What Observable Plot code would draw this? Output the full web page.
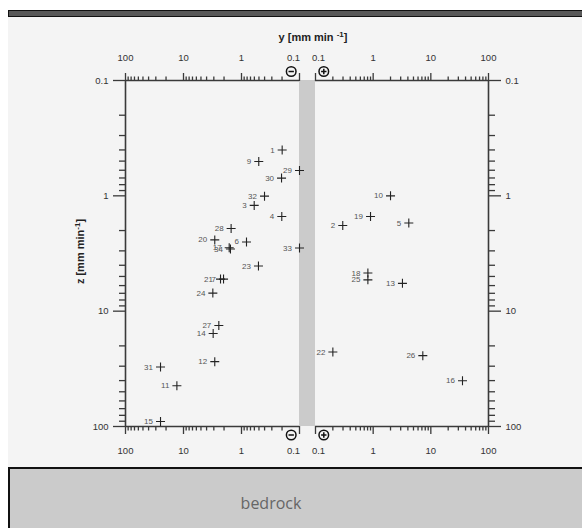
<!DOCTYPE html>
<html><head><meta charset="utf-8">
<script src="https://cdn.jsdelivr.net/npm/d3@7"></script>
<script src="https://cdn.jsdelivr.net/npm/@observablehq/plot@0.6"></script>
<style>
body{margin:0;background:#fff;}
#wrap{position:relative;width:582px;height:528px;overflow:hidden;font-family:"Liberation Sans",Arial,sans-serif;}
.abs{position:absolute;}
sup{font-size:8px;line-height:0;vertical-align:4px;}
</style></head><body>
<div id="wrap">
  <div class="abs" style="left:8px;top:10px;width:580px;height:5px;background:#585858;border:1px solid #111;"></div>
  <div class="abs" style="left:8px;top:17px;width:580px;height:450px;background:#f4f4f4;"></div>
  <div class="abs" style="left:299px;top:80px;width:16px;height:346px;background:#cbcbcb;"></div>
  <div class="abs" style="left:213px;top:31px;width:200px;text-align:center;font-weight:bold;font-size:11px;line-height:13px;color:#222;">y [mm min <sup>-1</sup>]</div>
  <div class="abs" style="left:20px;top:245px;width:120px;height:13px;text-align:center;font-weight:bold;font-size:11px;line-height:13px;color:#222;transform:rotate(-90deg);">z [mm min<sup>-1</sup>]</div>
  <div class="abs" style="left:8px;top:467px;width:580px;height:70px;background:#cbcbcb;border-top:2px solid #111;border-left:2px solid #111;"></div>
  <div class="abs" style="left:171px;top:492px;width:200px;text-align:center;font-family:'Open Sans';font-size:16px;line-height:22px;color:#666;">bedrock</div>
</div>
<script>
// point numbers, y rate (negative = left panel), z rate
const ids   = [1, 9, 29, 30, 32, 3, 4, 28, 20, 6, 17, 34, 33, 23, 21, 7, 24, 27, 14, 12, 31, 11, 15,
               10, 19, 2, 5, 18, 25, 13, 22, 26, 16];
const yRate = [-0.199, -0.504, -0.1, -0.204, -0.401, -0.604, -0.202, -1.51, -2.89, -0.82, -1.63, -1.55, -0.1, -0.51, -2.30, -2.04, -3.12, -2.46, -3.08, -2.89, -24.9, -13.0, -24.9,
               2.0, 0.90, 0.297, 4.15, 0.81, 0.81, 3.22, 0.2, 7.26, 35.4];
const zRate = [0.401, 0.504, 0.603, 0.702, 1.006, 1.21, 1.51, 1.92, 2.41, 2.51, 2.82, 2.89, 2.83, 4.06, 5.27, 5.27, 6.97, 13.3, 15.6, 27.4, 30.5, 44.3, 90.5,
               1.0, 1.51, 1.81, 1.72, 4.67, 5.35, 5.74, 22.6, 24.3, 40.1];

const majorTicks = [0.1, 1, 10, 100];
const tickLabels = ["0.1", "1", "10", "100"];
const minorTicks = [0.2, 0.3, 0.4, 0.5, 0.6, 0.7, 0.8, 0.9, 2, 3, 4, 5, 6, 7, 8, 9, 20, 30, 40, 50, 60, 70, 80, 90];

const rows = ids.map((id, i) => ({id: String(id), y: yRate[i], z: zRate[i]}));
const fmt = d => tickLabels[majorTicks.indexOf(d)];
const AX = "#3a3a3a";
const cross = {draw(c) { const r = 4.5; c.moveTo(-r, 0); c.lineTo(r, 0); c.moveTo(0, -r); c.lineTo(0, r); }};
const signSym = plus => ({draw(c) {
  const r = 4.8, s = 2.7;
  c.moveTo(r, 0); c.arc(0, 0, r, 0, 2 * Math.PI);
  c.moveTo(-s, 0); c.lineTo(s, 0);
  if (plus) { c.moveTo(0, -s); c.lineTo(0, s); }
}});

function panel(left) {
  const data = rows.filter(d => left ? d.y < 0 : d.y > 0).map(d => ({...d, m: Math.abs(d.y)}));
  const tk = {stroke: AX, strokeWidth: 1.3, fontSize: 9.5, fill: "#333", label: null};
  const lab = {fontSize: 9.5, fill: "#333", lineAnchor: "middle"};
  const others = majorTicks.filter(t => t !== 0.1);
  const svg = Plot.plot({
    width: 582, height: 528,
    marginTop: 80, marginBottom: 102,
    marginLeft: left ? 125 : 315, marginRight: left ? 283 : 94,
    style: {background: "transparent", fontFamily: "'Liberation Sans', Arial, sans-serif", overflow: "visible"},
    x: {type: "log", domain: [0.1, 100], reverse: left, axis: null},
    y: {type: "log", domain: [0.1, 100], reverse: true, axis: null},
    marks: [
      Plot.ruleY([0.1, 100], {stroke: AX, strokeWidth: 1.6}),
      Plot.ruleX([100], {stroke: AX, strokeWidth: 1.6}),
      Plot.axisX({...tk, anchor: "top", ticks: majorTicks, tickSize: 8, tickFormat: () => ""}),
      Plot.axisX({...tk, anchor: "top", ticks: minorTicks, tickSize: 4.5, tickFormat: () => ""}),
      Plot.axisX({...tk, anchor: "bottom", ticks: majorTicks, tickSize: 8, tickFormat: () => ""}),
      Plot.axisX({...tk, anchor: "bottom", ticks: minorTicks, tickSize: 4.5, tickFormat: () => ""}),
      Plot.text(others, {...lab, x: d => d, text: fmt, frameAnchor: "top", dy: -23}),
      Plot.text(others, {...lab, x: d => d, text: fmt, frameAnchor: "bottom", dy: 24}),
      Plot.text([0.1], {...lab, x: d => d, text: fmt, frameAnchor: "top", dy: -23, dx: left ? -6 : 3}),
      Plot.text([0.1], {...lab, x: d => d, text: fmt, frameAnchor: "bottom", dy: 24, dx: left ? -6 : 3}),
      Plot.axisY({...tk, anchor: left ? "left" : "right", ticks: majorTicks, tickSize: 12, tickPadding: 5, tickFormat: fmt}),
      Plot.axisY({...tk, anchor: left ? "left" : "right", ticks: minorTicks, tickSize: 6, tickFormat: () => ""}),
      Plot.dot([0.1], {x: d => d, frameAnchor: "top", dx: left ? -8.3 : 8.3, dy: -9, symbol: signSym(!left), fill: "none", stroke: "#111", strokeWidth: 1.5}),
      Plot.dot([0.1], {x: d => d, frameAnchor: "bottom", dx: left ? -8.3 : 8.3, dy: 8.5, symbol: signSym(!left), fill: "none", stroke: "#111", strokeWidth: 1.5}),
      Plot.dot(data, {x: "m", y: "z", symbol: cross, fill: "none", stroke: "#222", strokeWidth: 1.1}),
      Plot.text(data, {x: "m", y: "z", text: "id", textAnchor: "end", lineAnchor: "middle", dx: -7.5, fontSize: 8, fill: "#555"})
    ]
  });
  svg.style.position = "absolute";
  svg.style.left = "0px";
  svg.style.top = "0px";
  return svg;
}
const wrap = document.getElementById("wrap");
const bedrock = wrap.children[5];
wrap.insertBefore(panel(true), bedrock);
wrap.insertBefore(panel(false), bedrock);
</script>
</body></html>
